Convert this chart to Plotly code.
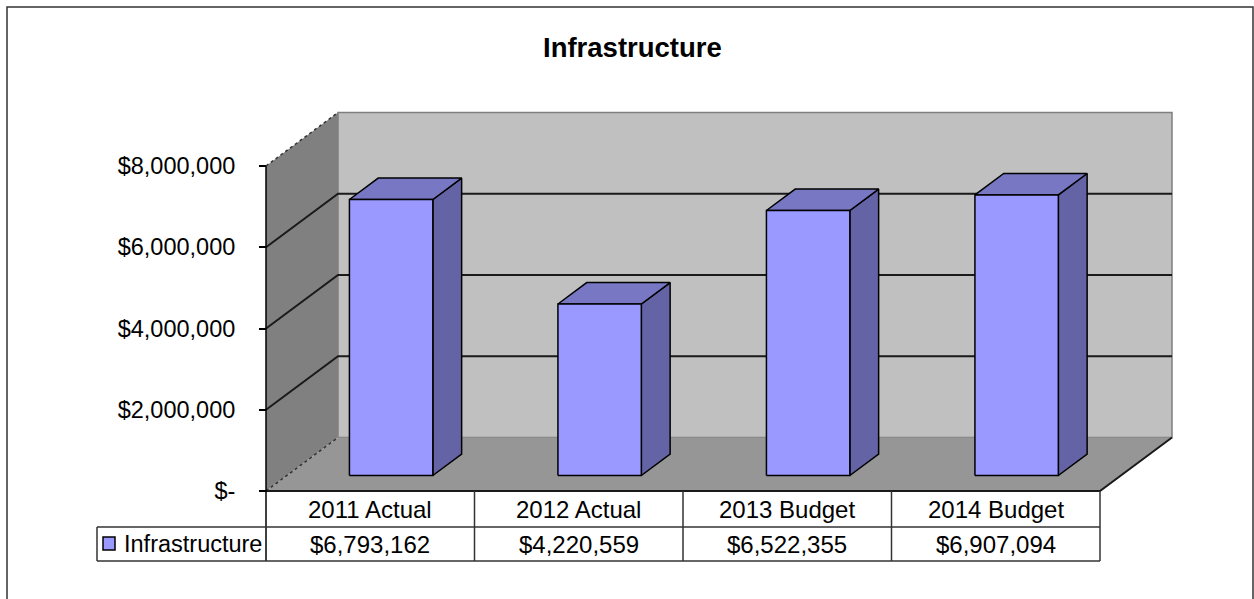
import plotly.graph_objects as go

# ---- data -----------------------------------------------------------------
categories = ["2011 Actual", "2012 Actual", "2013 Budget", "2014 Budget"]
values = [6793162, 4220559, 6522355, 6907094]
series_name = "Infrastructure"
chart_title = "Infrastructure"
tick_values = [0, 2000000, 4000000, 6000000, 8000000]
tick_labels = ["$-", "$2,000,000", "$4,000,000", "$6,000,000", "$8,000,000"]

# ---- page geometry (pixels) -------------------------------------------------
W, H = 1254, 599
FONT = "Liberation Sans, Arial, sans-serif"
FRONT_LEFT = 266          # left edge of the front plane
CAT_PX = 208.5            # width of one category on the front plane
BASE_PX = 491             # zero line on the front plane
VMAX = tick_values[-1]
VAL_PX = 325 / VMAX       # pixels per dollar
DEPTH_PX = (72, -53.5)    # oblique offset of the back wall
BAR_WIDTH = 0.4           # fraction of a category
BAR_DEPTH = (0.29, 0.69)  # bar front / back as fraction of depth
ROW1 = (491, 527)         # table: category row
ROW2 = (527, 561)         # table: value row
LEGEND_LEFT = 97

# Axis ranges chosen so categories and dollars land on the page geometry
x_range = [(0 - FRONT_LEFT) / CAT_PX - 0.5, (W - FRONT_LEFT) / CAT_PX - 0.5]
y_range = [(BASE_PX - H) / VAL_PX, BASE_PX / VAL_PX]
DC = DEPTH_PX[0] / CAT_PX
DV = -DEPTH_PX[1] / VAL_PX


def pt(c, v, t=0.0):
    """Category / value / depth -> axis coordinates (oblique projection)."""
    return c + t * DC, v + t * DV


def px_x(x):
    return (x - FRONT_LEFT) / CAT_PX - 0.5


def px_y(y):
    return (BASE_PX - y) / VAL_PX


fig = go.Figure()


def poly(points, fill, line_color="black", width=0.0, dash="solid"):
    xs = [p[0] for p in points] + [points[0][0]]
    ys = [p[1] for p in points] + [points[0][1]]
    fig.add_trace(go.Scatter(
        x=xs, y=ys, mode="lines", fill="toself", fillcolor=fill,
        line=dict(color=line_color if width > 0 else fill, width=width, dash=dash),
        hoverinfo="skip", showlegend=False))


def path(points, color, width, dash="solid"):
    fig.add_trace(go.Scatter(
        x=[p[0] for p in points], y=[p[1] for p in points], mode="lines",
        line=dict(color=color, width=width, dash=dash),
        hoverinfo="skip", showlegend=False))


c0, c1 = -0.5, len(categories) - 0.5

# walls and floor
poly([pt(c0, 0, 1), pt(c1, 0, 1), pt(c1, VMAX, 1), pt(c0, VMAX, 1)],
     "#c0c0c0", "#7f7f7f", 1.5)
poly([pt(c0, 0, 0), pt(c0, 0, 1), pt(c0, VMAX, 1), pt(c0, VMAX, 0)], "#808080")
poly([pt(c0, 0, 0), pt(c1, 0, 0), pt(c1, 0, 1), pt(c0, 0, 1)], "#969696")

# gridlines along side wall and back wall
for v in tick_values[1:-1]:
    path([pt(c0, v, 0), pt(c0, v, 1), pt(c1, v, 1)], "#1a1a1a", 2)

# dotted edges of the side wall
path([pt(c0, VMAX, 0), pt(c0, VMAX, 1)], "#333333", 1.5, "dot")
path([pt(c0, 0, 0), pt(c0, 0, 1)], "#333333", 1.5, "dot")

# floor front / right edges
path([pt(c0, 0, 0), pt(c1, 0, 0), pt(c1, 0, 1)], "#1a1a1a", 2)

# bars
t0, t1 = BAR_DEPTH
for i, v in enumerate(values):
    cl, cr = i - BAR_WIDTH / 2, i + BAR_WIDTH / 2
    poly([pt(cr, 0, t0), pt(cr, 0, t1), pt(cr, v, t1), pt(cr, v, t0)],
         "#6363a6", "black", 1.5)
    poly([pt(cl, v, t0), pt(cr, v, t0), pt(cr, v, t1), pt(cl, v, t1)],
         "#7777c3", "black", 1.5)
    poly([pt(cl, 0, t0), pt(cr, 0, t0), pt(cr, v, t0), pt(cl, v, t0)],
         "#9999ff", "black", 1.5)

# value axis line, continued through the data table
path([pt(c0, VMAX, 0), (c0, px_y(ROW2[1]))], "black", 1.5)

# data table grid
tbl = "#333333"
shapes = []
for y in (ROW1[1], ROW2[1]):
    shapes.append(dict(type="line", xref="x", yref="y", x0=px_x(LEGEND_LEFT), x1=c1,
                       y0=px_y(y), y1=px_y(y), line=dict(color=tbl, width=1.5)))
shapes.append(dict(type="line", xref="x", yref="y", x0=px_x(LEGEND_LEFT),
                   x1=px_x(LEGEND_LEFT), y0=px_y(ROW1[1]), y1=px_y(ROW2[1]),
                   line=dict(color=tbl, width=1.5)))
for k in range(1, len(categories) + 1):
    shapes.append(dict(type="line", xref="x", yref="y", x0=k - 0.5, x1=k - 0.5,
                       y0=px_y(ROW1[0]), y1=px_y(ROW2[1]),
                       line=dict(color=tbl, width=1.5)))
# legend key
shapes.append(dict(type="rect", xref="x", yref="y", x0=px_x(103), x1=px_x(115),
                   y0=px_y(537), y1=px_y(550), fillcolor="#9999ff",
                   line=dict(color="black", width=1.5)))
# chart border
shapes.append(dict(type="rect", xref="paper", yref="paper", x0=7 / W, x1=1253 / W,
                   y0=-0.2, y1=1 - 7 / H, line=dict(color="#333333", width=1.5)))

annotations = []
cell_font = dict(family=FONT, size=24, color="black")
for i, (cat, v) in enumerate(zip(categories, values)):
    annotations.append(dict(x=i, y=px_y(sum(ROW1) / 2), xref="x", yref="y",
                            text=cat, showarrow=False, font=cell_font,
                            yanchor="middle"))
    annotations.append(dict(x=i, y=px_y(sum(ROW2) / 2), xref="x", yref="y",
                            text=f"${v:,.0f}", showarrow=False, font=cell_font,
                            yanchor="middle"))
annotations.append(dict(x=px_x(122), y=px_y(sum(ROW2) / 2), xref="x", yref="y",
                        text=series_name, showarrow=False, xanchor="left",
                        yanchor="middle",
                        font=dict(family=FONT, size=23.5, color="black")))
annotations.append(dict(x=632 / W, y=1 - 47 / H, xref="paper", yref="paper",
                        text=f"<b>{chart_title}</b>", showarrow=False,
                        xanchor="center", yanchor="middle",
                        font=dict(family=FONT, size=27.5, color="black")))

fig.update_layout(
    width=W, height=H,
    margin=dict(l=0, r=0, t=0, b=0),
    paper_bgcolor="white", plot_bgcolor="white",
    showlegend=False,
    shapes=shapes,
    annotations=annotations,
    xaxis=dict(range=x_range, visible=False, domain=[0, 1], fixedrange=True),
    yaxis=dict(range=y_range, anchor="free", position=FRONT_LEFT / W,
               tickmode="array", tickvals=tick_values, ticktext=tick_labels,
               ticks="outside", ticklen=7, tickwidth=1.5, tickcolor="black",
               ticklabelstandoff=19,
               showgrid=False, zeroline=False, showline=False,
               tickfont=dict(family=FONT, size=23.5, color="black"),
               fixedrange=True),
)

fig.write_html("out.html")
